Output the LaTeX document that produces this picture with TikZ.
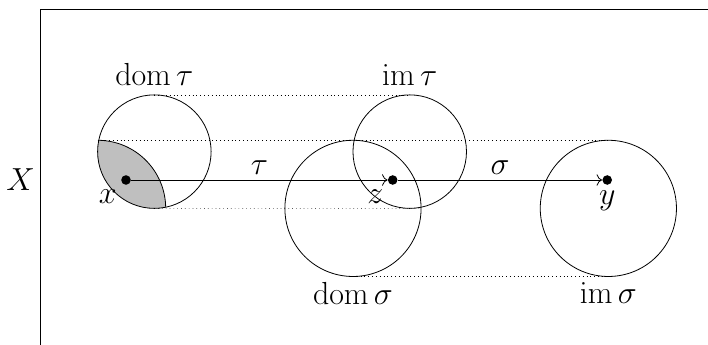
\documentclass[tikz,border=0pt]{standalone}
\usepackage{fix-cm}
\usepackage{amsmath}
\usetikzlibrary{arrows.meta}

\begin{document}
\begin{tikzpicture}[
    region/.style={circle,draw,outer sep=0pt,inner sep=0pt},
    small/.style={region,minimum size=2.5cm},
    large/.style={region,minimum size=3cm},
    elem/.style={circle,fill,minimum size=6pt,inner sep=0pt},
    guide/.style={dotted,line width=0.4pt},
    map/.style={-{To[length=1.2mm]}},
    every node/.style={font=\fontsize{20}{24}\selectfont},
    line width=0.5pt
]
    \clip (-2.775,-3.634) rectangle (12.82,3.965);

    \node[draw,minimum width=15cm,minimum height=7.5cm,label=left:$X$] (space) at (5.625,0) {};

    % preimage of dom sigma inside dom tau
    \begin{scope}
        \clip (0.625,0.625) circle (1.25);
        \node[large,fill=gray!50] (pre) at (-0.625,-0.625) {};
    \end{scope}

    \node[small,label={[label distance=2pt]above:$\operatorname{dom}\tau$}] (dom-tau) at (0.625,0.625) {};
    \node[small,label={[label distance=2pt]above:$\operatorname{im}\tau$}] (im-tau) at (6.25,0.625) {};
    \node[large,label=below:$\operatorname{dom}\sigma$] (dom-sigma) at (5,-0.625) {};
    \node[large,label=below:$\operatorname{im}\sigma$] (im-sigma) at (10.625,-0.625) {};

    \node[elem,label=below left:$x$] (x) at (0,0) {};
    \node[elem,label=below left:$z$] (z) at (5.875,0) {};
    \node[elem,label=below:$y$] (y) at (10.6,0) {};

    \draw[map] (x) -- node[above] {$\tau$} (z);
    \draw[map] (z) -- node[above] {$\sigma$} (y);

    \draw[guide] (dom-tau.north) -- (im-tau.north);
    \draw[guide] (pre.north) -- (im-sigma.north);
    \draw[guide] (dom-tau.south) -- (dom-sigma.east);
    \draw[guide] (dom-sigma.south) -- (im-sigma.south);
\end{tikzpicture}
\end{document}
